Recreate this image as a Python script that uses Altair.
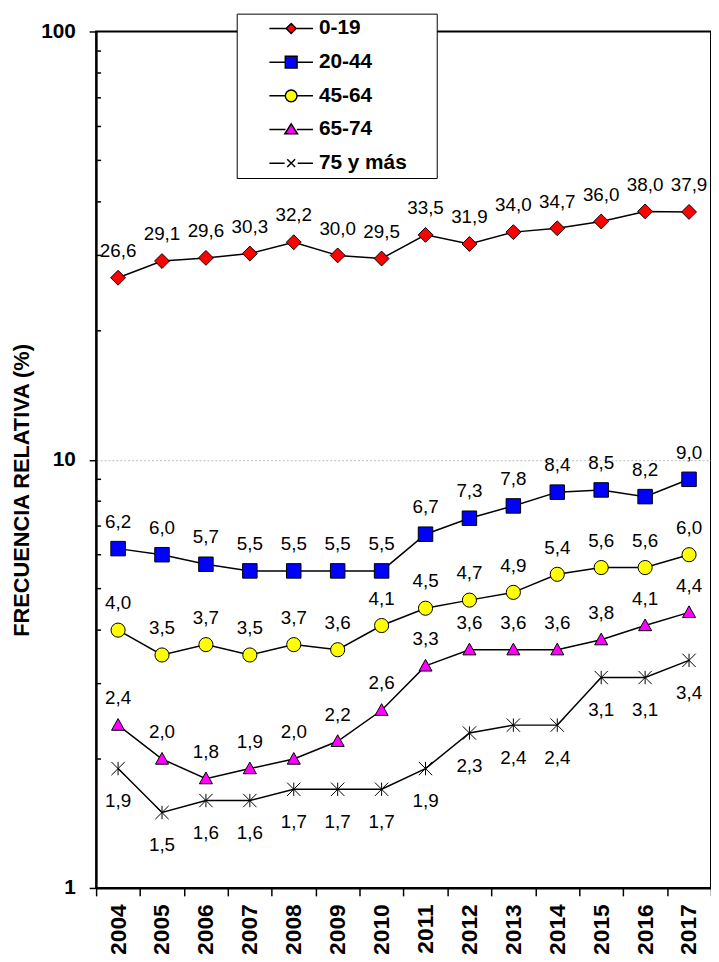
import altair as alt
import pandas as pd

years = [2004, 2005, 2006, 2007, 2008, 2009, 2010, 2011, 2012, 2013, 2014, 2015, 2016, 2017]
groups = ["0-19", "20-44", "45-64", "65-74", "75 y más"]
g0_19 = [26.6, 29.1, 29.6, 30.3, 32.2, 30.0, 29.5, 33.5, 31.9, 34.0, 34.7, 36.0, 38.0, 37.9]
g20_44 = [6.2, 6.0, 5.7, 5.5, 5.5, 5.5, 5.5, 6.7, 7.3, 7.8, 8.4, 8.5, 8.2, 9.0]
g45_64 = [4.0, 3.5, 3.7, 3.5, 3.7, 3.6, 4.1, 4.5, 4.7, 4.9, 5.4, 5.6, 5.6, 6.0]
g65_74 = [2.4, 2.0, 1.8, 1.9, 2.0, 2.2, 2.6, 3.3, 3.6, 3.6, 3.6, 3.8, 4.1, 4.4]
g75 = [1.9, 1.5, 1.6, 1.6, 1.7, 1.7, 1.7, 1.9, 2.3, 2.4, 2.4, 3.1, 3.1, 3.4]
minor_ticks = [2, 3, 4, 5, 6, 7, 8, 9, 20, 30, 40, 50, 60, 70, 80, 90]
y_ticks = [1, 10, 100]

series = [g0_19, g20_44, g45_64, g65_74, g75]
rows = []
for g, vals in zip(groups, series):
    for yr, v in zip(years, vals):
        rows.append({"anio": str(yr), "grupo": g, "valor": v})
df = pd.DataFrame(rows)
minor_df = pd.DataFrame({"v": minor_ticks})

colors = ["#FF0000", "#0000FF", "#FFFF00", "#FF00FF", "#000000"]
marker_shapes = [
    "diamond",
    "square",
    "circle",
    "M0,-0.95L0.95,0.75L-0.95,0.75Z",
    "M-1,-1L1,1M-1,1L1,-1M0,-1L0,1",
]
legend_shapes = [
    "M-1,0L-0.23,0M0.23,0L1,0M0,-0.23L0.23,0L0,0.23L-0.23,0Z",
    "M-1,0L-0.27,0M0.27,0L1,0M-0.27,-0.27L0.27,-0.27L0.27,0.27L-0.27,0.27Z",
    "M-1,0L-0.27,0M0.27,0L1,0M0.27,0A0.27,0.27,0,1,1,-0.27,0A0.27,0.27,0,1,1,0.27,0Z",
    "M-1,0L-0.26,0M0.26,0L1,0M0,-0.26L0.29,0.2L-0.29,0.2Z",
    "M-1,0L-0.3,0M0.3,0L1,0M-0.18,-0.18L0.18,0.18M-0.18,0.18L0.18,-0.18",
]

FONT = "Liberation Sans"

x_enc = alt.X(
    "anio:O",
    scale=alt.Scale(type="band", paddingInner=0, paddingOuter=0),
    axis=alt.Axis(
        title=None,
        tickBand="extent",
        tickSize=8,
        tickColor="black",
        tickWidth=1.5,
        domainColor="black",
        domainWidth=2,
        labelAngle=270,
        labelFont=FONT,
        labelFontSize=23,
        labelFontWeight="bold",
        labelColor="black",
        labelPadding=8,
        grid=False,
    ),
)

y_scale = alt.Scale(type="log", domain=[1, 100], nice=False)
y_axis = alt.Axis(
    values=y_ticks,
    format="d",
    title="FRECUENCIA RELATIVA (%)",
    titleFont=FONT,
    titleFontSize=22,
    titleFontWeight="bold",
    titleColor="black",
    titleAngle=270,
    titleAlign="center",
    titleBaseline="middle",
    titleX=-75,
    titleY=463,
    tickSize=7,
    tickColor="black",
    tickWidth=1.5,
    domainColor="black",
    domainWidth=2,
    labelFont=FONT,
    labelFontSize=21,
    labelFontWeight="bold",
    labelColor="black",
    labelPadding=14,
    grid=True,
    gridColor="#bdbdbd",
    gridDash=[2, 2],
    gridWidth=1,
    gridOpacity={"condition": {"test": "datum.value == 10", "value": 1}, "value": 0},
)
y_enc = alt.Y("valor:Q", scale=y_scale, axis=y_axis)

base = alt.Chart(df)

lines = base.mark_line(color="black", strokeWidth=1.5).encode(
    x=x_enc, y=y_enc, detail="grupo:N"
)

sizes = alt.Size(
    "grupo:N",
    scale=alt.Scale(domain=groups, range=[225, 182, 196, 196, 289]),
    legend=None,
)

points = base.mark_point(filled=True, stroke="black", strokeWidth=1, opacity=1).encode(
    x=x_enc,
    y=y_enc,
    shape=alt.Shape("grupo:N", scale=alt.Scale(domain=groups, range=marker_shapes), legend=None),
    fill=alt.Fill("grupo:N", scale=alt.Scale(domain=groups, range=colors), legend=None),
    size=sizes,
)

label_calc = "replace(format(datum.valor, '.1f'), '.', ',')"

labels_above = (
    base.transform_filter(alt.datum.grupo != "75 y más")
    .transform_calculate(lbl=label_calc)
    .mark_text(font=FONT, fontSize=19, color="black", dy=-27, baseline="middle")
    .encode(x=x_enc, y=y_enc, text="lbl:N")
)

labels_below = (
    base.transform_filter(alt.datum.grupo == "75 y más")
    .transform_calculate(lbl=label_calc)
    .mark_text(font=FONT, fontSize=19, color="black", dy=33, baseline="middle")
    .encode(x=x_enc, y=y_enc, text="lbl:N")
)

minor = (
    alt.Chart(minor_df)
    .mark_rule(color="black", strokeWidth=1.5)
    .encode(
        y=alt.Y("v:Q", scale=y_scale, axis=y_axis),
        x=alt.value(0),
        x2=alt.value(5),
    )
)

leg = alt.Legend(
    title="MM",
    titleOrient="right",
    titleOpacity=0,
    titleFontSize=13,
    titlePadding=8,
    orient="none",
    legendX=142,
    legendY=-18,
    fillColor="white",
    strokeColor="black",
    padding=0,
    clipHeight=30,
    rowPadding=4,
    symbolSize=1936,
    symbolOffset=32,
    labelOffset=5,
    symbolStrokeColor="black",
    symbolStrokeWidth=1.5,
    labelFont=FONT,
    labelFontSize=21,
    labelFontWeight="bold",
    labelColor="black",
)

legend_layer = (
    base.transform_filter("false")
    .mark_point(filled=True, strokeWidth=1.5, opacity=1)
    .encode(
        shape=alt.Shape("grupo:N", scale=alt.Scale(domain=groups, range=legend_shapes), legend=leg),
        fill=alt.Fill("grupo:N", scale=alt.Scale(domain=groups, range=colors), legend=leg),
        stroke=alt.Stroke("grupo:N", scale=alt.Scale(domain=groups, range=["black"] * 5), legend=leg),
    )
)

chart = (
    alt.layer(minor, lines, points, labels_above, labels_below, legend_layer)
    .resolve_scale(shape="independent", fill="independent", stroke="independent")
    .properties(
        width=621,
        height=865,
        autosize=alt.AutoSizeParams(type="none"),
        padding={"left": 89, "top": 19, "right": 0, "bottom": 62},
        background="white",
    )
    .configure_view(stroke="black", strokeWidth=2)
)

chart.save("out.html", embed_options={"renderer": "svg", "actions": False})
